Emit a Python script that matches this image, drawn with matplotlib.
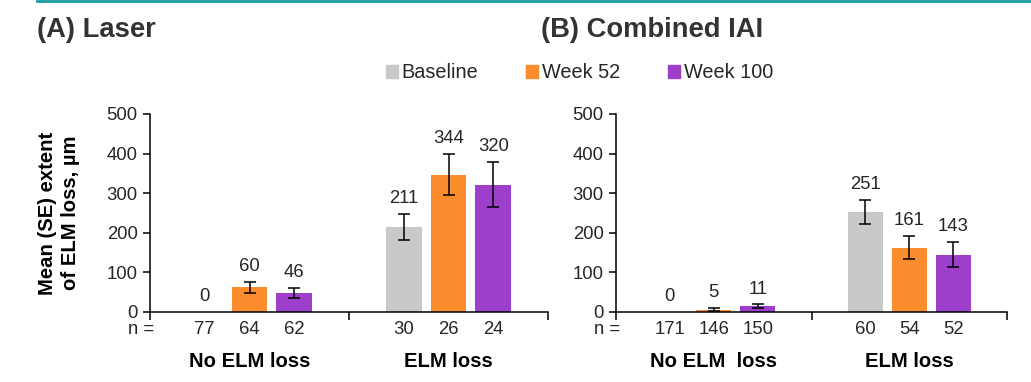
import numpy as np
import matplotlib.pyplot as plt
from matplotlib.lines import Line2D
from matplotlib.patches import Patch

plt.rcParams['font.family'] = ['Liberation Sans', 'DejaVu Sans']

series = ['Baseline', 'Week 52', 'Week 100']
colors = ['#c9c9c9', '#fb8d2f', '#9e3fcc']

# panel A: Laser
a_means = [[0, 60, 46], [211, 344, 320]]
a_bars = [[0, 62, 48], [215, 347, 321]]
a_se = [[0, 14, 12], [33, 52, 57]]
a_n = [[77, 64, 62], [30, 26, 24]]
a_groups = ['No ELM loss', 'ELM loss']

# panel B: Combined IAI
b_means = [[0, 5, 11], [251, 161, 143]]
b_bars = [[0, 6, 14], [253, 162, 145]]
b_se = [[0, 4, 5], [31, 29, 31]]
b_n = [[171, 146, 150], [60, 54, 52]]
b_groups = ['No ELM  loss', 'ELM loss']

txt = '#262626'
num_fs = 13.3
W, H = 1031, 382
fig = plt.figure(figsize=(W / 100, H / 100), dpi=100)

# teal rule at the top
fig.add_artist(Line2D([37 / W, 1], [1 - 1 / H, 1 - 1 / H], color='#1a9aa0', lw=2))


def panel(rect, means, bars, se, ns, groups, title, title_x, ylabel=False):
    ax = fig.add_axes(rect)
    offs = [-0.225, 0, 0.225]
    for g in range(2):
        for s in range(3):
            x = g + 0.5 + offs[s]
            if bars[g][s] > 0:
                ax.bar(x, bars[g][s], width=0.18, color=colors[s], zorder=2)
                ax.errorbar(x, bars[g][s], yerr=se[g][s], color='black', lw=1.1,
                            capsize=4, capthick=1.1, zorder=3)
            top = bars[g][s] + se[g][s]
            ax.annotate(str(means[g][s]), (x, top), xytext=(0, 5),
                        textcoords='offset points', ha='center', va='bottom',
                        fontsize=num_fs, color=txt)
            ax.text(x, -0.09, str(ns[g][s]), transform=ax.get_xaxis_transform(),
                    ha='center', va='center', fontsize=num_fs, color=txt)
        ax.text(g + 0.5, -0.25, groups[g], transform=ax.get_xaxis_transform(),
                ha='center', va='center', fontsize=14.6, fontweight='bold', color='black')
    ax.text(0.02, -0.09, 'n =', transform=ax.get_xaxis_transform(),
            ha='right', va='center', fontsize=num_fs, color=txt)
    ax.set_xlim(0, 2)
    ax.set_ylim(0, 500)
    ax.set_yticks(range(0, 501, 100))
    ax.set_xticks([0, 1, 2])
    ax.set_xticklabels([])
    for sp in ['top', 'right']:
        ax.spines[sp].set_visible(False)
    for sp in ['left', 'bottom']:
        ax.spines[sp].set_color('black')
        ax.spines[sp].set_linewidth(1.1)
    ax.tick_params(axis='y', length=5, width=1.1, labelsize=num_fs, labelcolor=txt, pad=4)
    ax.tick_params(axis='x', length=6, width=1.1)
    if ylabel:
        ax.set_ylabel('Mean (SE) extent\nof ELM loss, µm', fontsize=14.6,
                      fontweight='bold', labelpad=19, linespacing=1.25)
    fig.text(title_x / W, 1 - 30 / H, title, fontsize=19.7, fontweight='bold',
             color='#333333', ha='left', va='center')
    return ax


panel([150 / W, 1 - 312 / H, 398 / W, 198 / H], a_means, a_bars, a_se, a_n,
      a_groups, '(A) Laser', 37, ylabel=True)
panel([616 / W, 1 - 312 / H, 391 / W, 198 / H], b_means, b_bars, b_se, b_n,
      b_groups, '(B) Combined IAI', 541)

handles = [Patch(color=c) for c in colors]
fig.legend(handles, series, loc='center left', bbox_to_anchor=(368 / W, 1 - 73 / H),
           ncol=3, frameon=False, fontsize=14.3, handlelength=0.6, handleheight=0.6,
           handletextpad=0.2, columnspacing=2.4, labelcolor=txt)

fig.savefig('out.png', dpi=100)
